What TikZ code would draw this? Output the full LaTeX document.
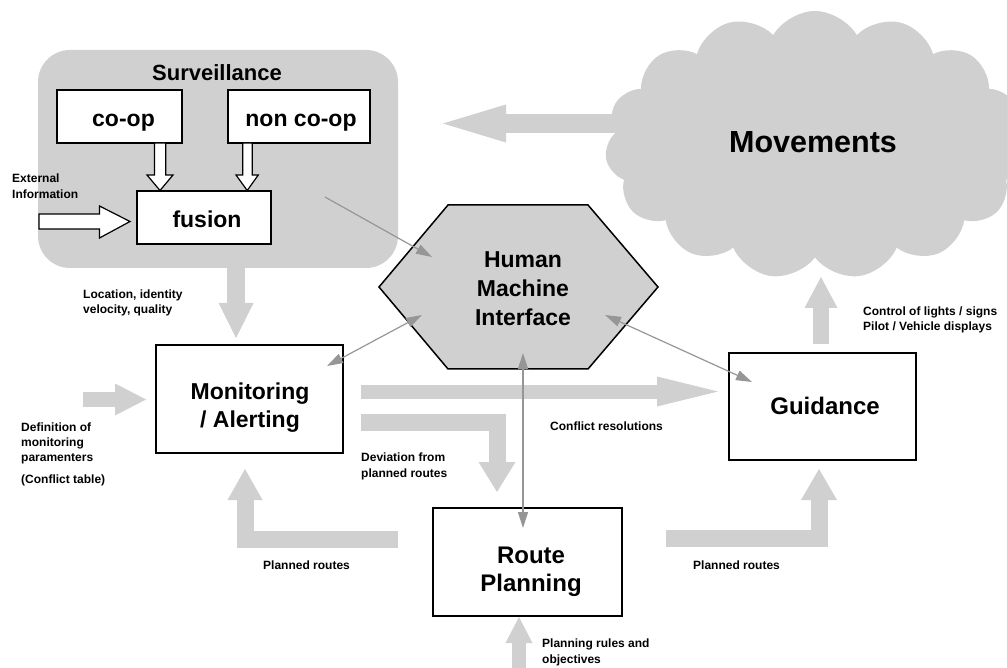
\documentclass[tikz,border=0pt]{standalone}
\usepackage{fontspec}
\setmainfont{Liberation Sans}
\usetikzlibrary{arrows.meta,shapes.symbols,calc}
\definecolor{blockgray}{RGB}{208,208,208}
\definecolor{linegray}{RGB}{150,150,150}
\begin{document}
\begin{tikzpicture}[x=1pt,y=-1pt,
  box/.style={draw=black,line width=1.3pt,fill=white,inner sep=0pt},
  bigtext/.style={font=\bfseries\fontsize{23}{28}\selectfont,align=center,inner sep=0pt},
  lbl/.style={font=\bfseries\fontsize{12}{15}\selectfont,align=left,inner sep=0pt,anchor=north west},
  flow/.style={draw=blockgray,line join=miter,line cap=butt},
  thinarrow/.style={draw=linegray,line width=1.2pt,{Triangle[length=16pt,width=10pt]}-{Triangle[length=16pt,width=10pt]}},
  thinone/.style={draw=linegray,line width=1.2pt,-{Triangle[length=16pt,width=10pt]}},
  hollow/.style={draw=black,fill=white,line width=1.2pt,line join=miter},
]
\useasboundingbox (0,0) rectangle (1007,668);

% Surveillance background and cloud
\node[fill=blockgray,rounded corners=32pt,minimum width=360pt,minimum height=218pt,inner sep=0pt] (surv) at (218,159) {};
\node[cloud,cloud puffs=15,cloud puff arc=120,aspect=1.57,fill=blockgray,minimum width=420pt,minimum height=268pt,inner sep=0pt] (mov) at (815,145) {};

% boxes
\node[box,minimum width=125pt,minimum height=53pt] (coop) at (119.5,116.5) {};
\node[box,minimum width=142pt,minimum height=53pt] (noncoop) at (299,116.5) {};
\node[box,minimum width=134pt,minimum height=53pt] (fusion) at (204,217.5) {};
\node[box,minimum width=187pt,minimum height=108pt] (mon) at (249.5,399) {};
\node[box,minimum width=189pt,minimum height=108pt] (route) at (527.5,562) {};
\node[box,minimum width=187pt,minimum height=107pt] (guid) at (822.5,406.5) {};

% hexagon
\draw[fill=blockgray,draw=black,line width=1.5pt,line join=miter] (448,205) -- (588,205) -- (658,287) -- (588,369) -- (448,369) -- (379,287) -- cycle;
\coordinate (hmi) at (518,287);

% big gray flow arrows
\coordinate (movA) at (625,123.5);  \coordinate (survA) at (443,123.5);
\draw[flow,line width=19pt,-{Triangle[width=38pt,length=63pt,line width=0pt]}] (movA) -- (survA);
\coordinate (survB) at (236,262);   \coordinate (monB) at (236,338);
\draw[flow,line width=18pt,-{Triangle[width=35pt,length=35pt,line width=0pt]}] (survB) -- (monB);
\coordinate (defC) at (83,399.5);   \coordinate (monC) at (146,399.5);
\draw[flow,line width=15pt,-{Triangle[width=32pt,length=31pt,line width=0pt]}] (defC) -- (monC);
\coordinate (monD) at (361,391.5);  \coordinate (guidD) at (718,391.5);
\draw[flow,line width=14pt,-{Triangle[width=30pt,length=61pt,line width=0pt]}] (monD) -- (guidD);
\coordinate (monE) at (361,422.5);  \coordinate (routeE) at (497,492);
\draw[flow,line width=17pt,-{Triangle[width=37pt,length=30pt,line width=0pt]}] (monE) -| (routeE);
\coordinate (routeF) at (398,539);  \coordinate (monF) at (245,469);
\draw[flow,line width=17pt,-{Triangle[width=35pt,length=31pt,line width=0pt]}] (routeF) -| (monF);
\coordinate (routeG) at (666,538);  \coordinate (guidG) at (819,469);
\draw[flow,line width=17pt,-{Triangle[width=36pt,length=31pt,line width=0pt]}] (routeG) -| (guidG);
\coordinate (guidH) at (821,344);   \coordinate (movH) at (821,277);
\draw[flow,line width=16pt,-{Triangle[width=33pt,length=31pt,line width=0pt]}] (guidH) -- (movH);
\coordinate (rulesI) at (519,675);  \coordinate (routeI) at (519,617);
\draw[flow,line width=14pt,-{Triangle[width=27pt,length=26pt,line width=0pt]}] (rulesI) -- (routeI);

% hollow arrows
\draw[hollow] (154.5,143) -- (165.7,143) -- (165.7,175) -- (173,175) -- (160,190.5) -- (147,175) -- (154.5,175) -- cycle;
\draw[hollow] (242.7,143) -- (252.3,143) -- (252.3,175) -- (258.3,175) -- (247.2,190.5) -- (236,175) -- (242.7,175) -- cycle;
\draw[hollow] (39,214) -- (99.5,214) -- (99.5,206) -- (130,221.5) -- (99.5,238) -- (99.5,229) -- (39,229) -- cycle;

% thin connectors
\coordinate (survJ) at (325,197);  \coordinate (hmiJ) at (432,257);
\draw[thinone] (survJ) -- (hmiJ);
\coordinate (monK) at (327,366);   \coordinate (hmiK) at (422,315);
\draw[thinarrow] (monK) -- (hmiK);
\coordinate (hmiL) at (605,315);   \coordinate (guidL) at (752,382);
\draw[thinarrow] (hmiL) -- (guidL);
\coordinate (hmiM) at (523,353);   \coordinate (routeM) at (523,528);
\draw[thinarrow] (hmiM) -- (routeM);

% big texts
\node[font=\bfseries\fontsize{22}{26}\selectfont,inner sep=0pt,anchor=base] (survT) at (217,81) {Surveillance};
\node[bigtext,anchor=base] (coopT) at (123.5,127) {co-op};
\node[bigtext,anchor=base] (noncoopT) at (301,127) {non co-op};
\node[bigtext,anchor=base] (fusionT) at (207,228) {fusion};
\node[bigtext,anchor=north] (monT) at (250,382.5) {Monitoring\\/ Alerting};
\node[bigtext,anchor=north,font=\bfseries\fontsize{23}{29}\selectfont] (hmiT) at (523,251.5) {Human\\Machine\\Interface};
\node[bigtext,anchor=base,font=\bfseries\fontsize{24}{28}\selectfont] (guidT) at (825,414) {Guidance};
\node[bigtext,anchor=north,font=\bfseries\fontsize{24}{28}\selectfont] (routeT) at (531,546.5) {Route\\Planning};
\node[font=\bfseries\fontsize{30.5}{34}\selectfont,inner sep=0pt,anchor=base] (movT) at (813,153) {Movements};

% small labels
\node[lbl,font=\bfseries\fontsize{12}{16}\selectfont] (extL) at (12,174) {External\\Information};
\node[lbl] (locL) at (83,290) {Location, identity\\velocity, quality};
\node[lbl] (defL) at (21,423) {Definition of\\monitoring\\paramenters\\[7pt](Conflict table)};
\node[lbl,font=\bfseries\fontsize{12}{16}\selectfont] (devL) at (361,453) {Deviation from\\planned routes};
\node[lbl] (prL) at (263,561) {Planned routes};
\node[lbl] (crL) at (550,422) {Conflict resolutions};
\node[lbl] (prR) at (693,561) {Planned routes};
\node[lbl,font=\bfseries\fontsize{12}{14.5}\selectfont] (ctlL) at (863,307) {Control of lights / signs\\Pilot / Vehicle displays};
\node[lbl,font=\bfseries\fontsize{12}{16}\selectfont] (rulesL) at (542,639) {Planning rules and\\objectives};
\end{tikzpicture}
\end{document}
